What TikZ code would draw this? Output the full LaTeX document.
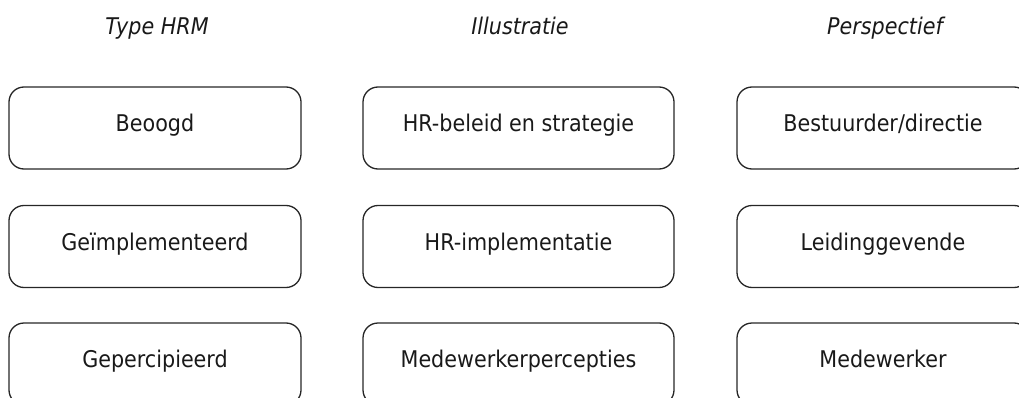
\documentclass[tikz,border=0pt]{standalone}
\usepackage{fontspec}
\setmainfont{DejaVu Sans}[FakeStretch=0.9]
\begin{document}
\begin{tikzpicture}[x=1pt,y=1pt,
  every node/.style={font=\fontsize{23}{27}\selectfont, text=black!90},
  hbox/.style={draw=black!85, line width=1.3pt, rounded corners=15pt,
     minimum height=82pt, text height=0.73em, text depth=0pt, inner sep=0pt},
  narrowbox/.style={hbox, minimum width=292pt},
  widebox/.style={hbox, minimum width=311pt},
  title/.style={anchor=base, font=\fontsize{23}{27}\selectfont\itshape}]
\useasboundingbox (0,0) rectangle (1019,-398);
\node[title] (t1) at (157,-35) {Type HRM};
\node[title] (t2) at (520,-35) {Illustratie};
\node[title] (t3) at (885,-35) {Perspectief};
\node[narrowbox] (a1) at (155,-128) {Beoogd};
\node[narrowbox] (a2) at (155,-246.5) {Geïmplementeerd};
\node[narrowbox] (a3) at (155,-364) {Gepercipieerd};
\node[widebox] (b1) at (518.5,-128) {HR-beleid en strategie};
\node[widebox] (b2) at (518.5,-246.5) {HR-implementatie};
\node[widebox] (b3) at (518.5,-364) {Medewerkerpercepties};
\node[narrowbox] (c1) at (883,-128) {Bestuurder/directie};
\node[narrowbox] (c2) at (883,-246.5) {Leidinggevende};
\node[narrowbox] (c3) at (883,-364) {Medewerker};
\end{tikzpicture}
\end{document}
